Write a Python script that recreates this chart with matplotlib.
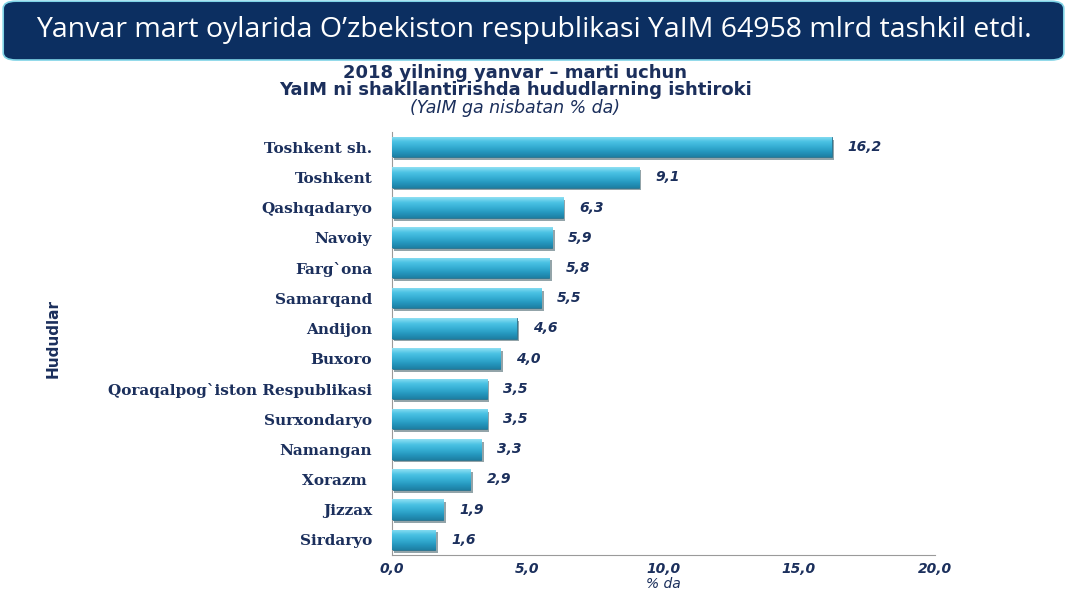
import numpy as np
import matplotlib
matplotlib.use('Agg')
import matplotlib.pyplot as plt
from matplotlib.patches import FancyBboxPatch
import matplotlib.patheffects as pe

# data
regions = ['Toshkent sh.', 'Toshkent', 'Qashqadaryo', 'Navoiy', 'Farg`ona', 'Samarqand',
           'Andijon', 'Buxoro', 'Qoraqalpog`iston Respublikasi', 'Surxondaryo',
           'Namangan', 'Xorazm ', 'Jizzax', 'Sirdaryo']
shares = [16.2, 9.1, 6.3, 5.9, 5.8, 5.5, 4.6, 4.0, 3.5, 3.5, 3.3, 2.9, 1.9, 1.6]
x_ticks = [0, 5, 10, 15, 20]

header = 'Yanvar mart oylarida O\u2019zbekiston respublikasi YaIM 64958 mlrd tashkil etdi.'
title_lines = ['2018 yilning yanvar \u2013 marti uchun',
               'YaIM ni shakllantirishda hududlarning ishtiroki']
subtitle = '(YaIM ga nisbatan % da)'

navy = '#1b2f5c'

fig = plt.figure(figsize=(10.67, 6), dpi=100)

# header box
box = FancyBboxPatch((0.003, 0.9), 0.994, 0.098, boxstyle='round,pad=0,rounding_size=0.012',
                     transform=fig.transFigure, facecolor='#0c2f61', edgecolor='#7fd3e6',
                     lw=1.2, zorder=3)
fig.patches.append(box)
fig.text(0.5, 0.95, header, color='white', fontsize=20.5, ha='center', va='center',
         family='Open Sans', zorder=4)

# titles
fig.text(0.483, 0.879, title_lines[0], ha='center', va='center', fontsize=13,
         fontweight='bold', color=navy)
fig.text(0.483, 0.85, title_lines[1], ha='center', va='center', fontsize=13,
         fontweight='bold', color=navy)
fig.text(0.483, 0.82, subtitle, ha='center', va='center', fontsize=12.5,
         style='italic', color=navy)

ax = fig.add_axes([0.367, 0.075, 0.509, 0.705])
ax.patch.set_alpha(0)

y = np.arange(len(regions))
bars = ax.barh(y, shares, height=0.68, color='#38b2d6', edgecolor='#2a6f8a', lw=0.6,
               zorder=2, path_effects=[pe.SimplePatchShadow(offset=(2, -2), alpha=0.45),
                                       pe.Normal()])

# glossy gradient inside each bar
grad = np.linspace(0, 1, 64).reshape(-1, 1)
cmap = matplotlib.colors.LinearSegmentedColormap.from_list(
    'gloss', ['#8fe0f3', '#4cc3e4', '#36afd4', '#2597be', '#1d7fa3'])
for b in bars:
    x0, y0 = b.get_x(), b.get_y()
    w, h = b.get_width(), b.get_height()
    im = ax.imshow(grad, extent=(x0, x0 + w, y0 + h, y0), aspect='auto', cmap=cmap,
                   zorder=3, origin='upper')
    im.set_clip_path(b)

for yi, v in zip(y, shares):
    ax.text(v + 0.6, yi, f'{v:.1f}'.replace('.', ','), va='center', ha='left',
            fontsize=10, fontweight='bold', style='italic', color=navy)

ax.set_xlim(0, 20)
ax.set_ylim(len(regions) - 0.5, -0.5)
ax.set_yticks(y)
ax.set_yticklabels(regions, family='DejaVu Serif', fontweight='bold', fontsize=11, color=navy)
ax.set_xticks(x_ticks)
ax.set_xticklabels([f'{t:.1f}'.replace('.', ',') for t in x_ticks], fontsize=10,
                   fontweight='bold', style='italic', color=navy)
ax.tick_params(axis='y', length=0, pad=14)
ax.tick_params(axis='x', length=0, pad=5)
ax.set_xlabel('% da', fontsize=10, style='italic', color=navy, labelpad=1)
for s in ['top', 'right']:
    ax.spines[s].set_visible(False)
for s in ['left', 'bottom']:
    ax.spines[s].set_color('#9a9a9a')

fig.text(0.05, 0.435, 'Hududlar', rotation=90, ha='center', va='center', fontsize=11,
         fontweight='bold', color=navy, family=['Liberation Sans Narrow', 'DejaVu Sans'])

fig.savefig('out.png', dpi=100)
